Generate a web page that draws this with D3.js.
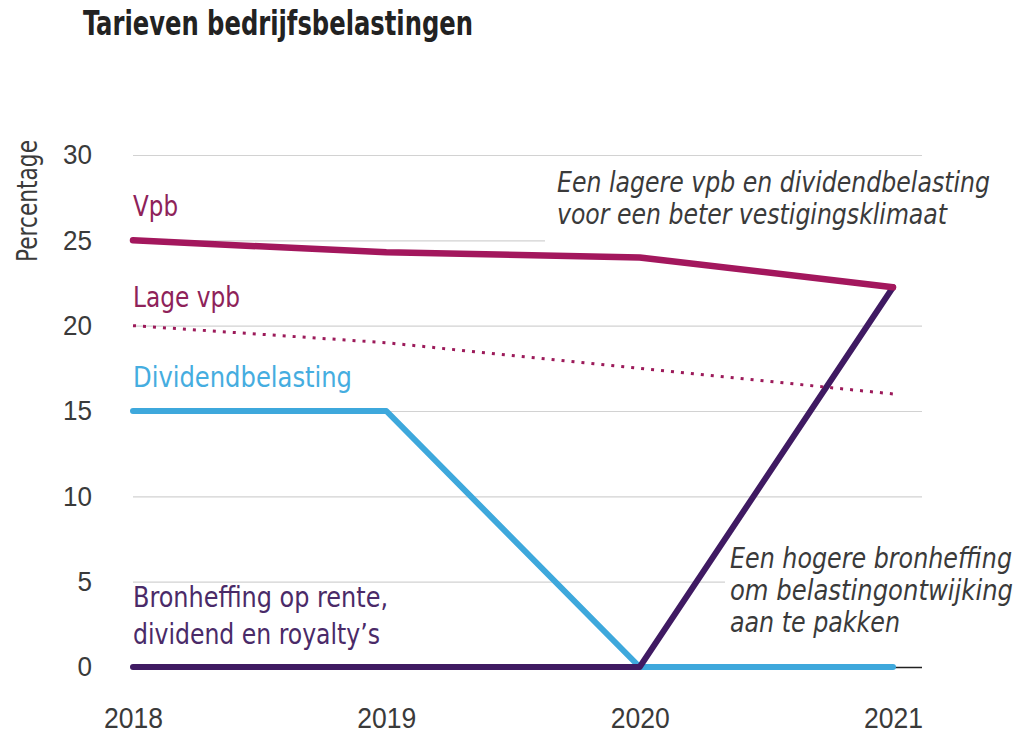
<!DOCTYPE html>
<html>
<head>
<meta charset="utf-8">
<script src="https://cdn.jsdelivr.net/npm/d3@7"></script>
<style>
    body { margin: 0; background: #fff; }
    svg { display: block; font-family: "DejaVu Sans Condensed", "DejaVu Sans", sans-serif; }
</style>
</head>
<body>
<svg id="chart" width="1031" height="736"></svg>
<script>

// data
var years = [2018, 2019, 2020, 2021];
var vpb = [25, 24.3, 24.0, 22.25];
var lageVpb = [20, 19, 17.5, 16];
var dividend = [15, 15, 0, 0];
var bronheffing = [0, 0, 0, 22.25];
var yTicks = [0, 5, 10, 15, 20, 25, 30];

var draw = {

    left: 133,
    right: 922,

    // squeeze a text (or tspan) to the width it has in the print
    fit: function (sel, w) {
        sel.attr("textLength", w).attr("lengthAdjust", "spacingAndGlyphs");
    },

    index: function () {
        var svg = d3.select("#chart");

        var x = d3.scaleLinear().domain([2018, 2021]).range([133, 893]);
        var y = d3.scaleLinear().domain([0, 30]).range([667, 155]);

        // title
        svg.append("text")
            .attr("x", 83)
            .attr("y", 35)
            .attr("font-size", 34)
            .attr("font-weight", "bold")
            .attr("fill", "#222")
            .text("Tarieven bedrijfsbelastingen")
            .call(draw.fit, 390);

        // y axis label
        svg.append("text")
            .attr("transform", "translate(37,201) rotate(-90)")
            .attr("text-anchor", "middle")
            .attr("font-size", 28)
            .attr("fill", "#3a3a3a")
            .text("Percentage")
            .call(draw.fit, 122);

        // y axis with gridlines
        var yAxis = svg.append("g")
            .attr("class", "y_axis")
            .attr("transform", "translate(" + draw.left + ",0)")
            .call(d3.axisLeft(y)
                .tickValues(yTicks)
                .tickSize(-(draw.right - draw.left))
                .tickPadding(41));
        yAxis.select(".domain").remove();
        yAxis.selectAll("line")
            .attr("stroke", function (d) { return d === 0 ? "#222" : "#d2d2d2"; })
            .attr("stroke-width", function (d) { return d === 0 ? 1.5 : 1.2; });
        yAxis.selectAll("text")
            .attr("font-size", 28)
            .attr("font-family", null)
            .attr("fill", "#3a3a3a")
            .each(function () {
                d3.select(this).call(draw.fit, this.textContent.length * 14.5);
            });

        // x axis
        var xAxis = svg.append("g")
            .attr("class", "x_axis")
            .attr("transform", "translate(0," + y(0) + ")")
            .call(d3.axisBottom(x)
                .tickValues(years)
                .tickFormat(d3.format("d"))
                .tickSize(0)
                .tickPadding(40));
        xAxis.select(".domain").remove();
        xAxis.selectAll("text")
            .attr("font-size", 29)
            .attr("font-family", null)
            .attr("fill", "#3a3a3a")
            .call(draw.fit, 59);

        // white boxes behind annotations (cut the gridlines)
        svg.append("rect").attr("x", 545).attr("y", 165).attr("width", 470).attr("height", 80).attr("fill", "#fff");
        svg.append("rect").attr("x", 725).attr("y", 545).attr("width", 300).attr("height", 100).attr("fill", "#fff");

        var line = d3.line()
            .x(function (d, i) { return x(years[i]); })
            .y(function (d) { return y(d); });

        var series = [
            { values: dividend, color: "#3ea8dc", width: 6, dash: null },
            { values: bronheffing, color: "#3f1a62", width: 6, dash: null },
            { values: lageVpb, color: "#9c1a5a", width: 3, dash: "3,7" },
            { values: vpb, color: "#a3175d", width: 6.5, dash: null }
        ];

        svg.append("g").attr("class", "lines")
            .selectAll("path")
            .data(series)
            .enter().append("path")
            .attr("d", function (d) { return line(d.values); })
            .attr("fill", "none")
            .attr("stroke", function (d) { return d.color; })
            .attr("stroke-width", function (d) { return d.width; })
            .attr("stroke-dasharray", function (d) { return d.dash; })
            .attr("stroke-linecap", function (d) { return d.dash ? "butt" : "round"; })
            .attr("stroke-linejoin", "round");

        // series labels
        var labels = [
            { lines: ["Vpb"], widths: [45], y: 216, color: "#8e2259" },
            { lines: ["Lage vpb"], widths: [107], y: 307, color: "#8e2259" },
            { lines: ["Dividendbelasting"], widths: [219], y: 387, color: "#45ade0" },
            { lines: ["Bronheffing op rente,", "dividend en royalty\u2019s"], widths: [255, 247], y: 607, color: "#4a2a68", step: 37 }
        ];
        labels.forEach(function (l) {
            var t = svg.append("text")
                .attr("x", x(2018))
                .attr("y", l.y)
                .attr("font-size", 28)
                .attr("fill", l.color);
            l.lines.forEach(function (s, i) {
                t.append("tspan")
                    .attr("x", x(2018))
                    .attr("dy", i === 0 ? 0 : l.step)
                    .text(s)
                    .call(draw.fit, l.widths[i]);
            });
        });

        // annotations
        var notes = [
            { lines: ["Een lagere vpb en dividendbelasting", "voor een beter vestigingsklimaat"], widths: [433, 390], x: 557, y: 192 },
            { lines: ["Een hogere bronheffing", "om belastingontwijking", "aan te pakken"], widths: [282, 283, 170], x: 730, y: 568 }
        ];
        notes.forEach(function (n) {
            var t = svg.append("text")
                .attr("x", n.x)
                .attr("y", n.y)
                .attr("font-size", 28)
                .attr("font-style", "italic")
                .attr("fill", "#3a3a3a");
            n.lines.forEach(function (s, i) {
                t.append("tspan")
                    .attr("x", n.x)
                    .attr("dy", i === 0 ? 0 : 32)
                    .text(s)
                    .call(draw.fit, n.widths[i]);
            });
        });
    }
};

draw.index();
</script>
</body>
</html>
